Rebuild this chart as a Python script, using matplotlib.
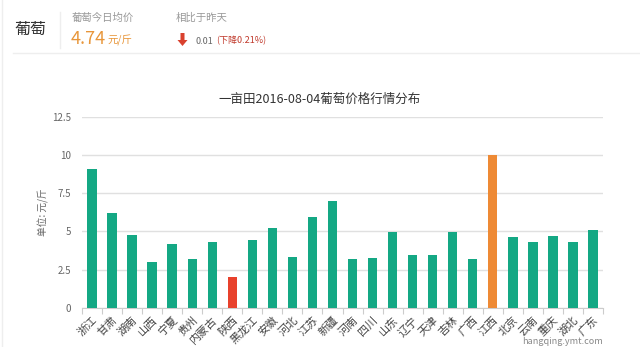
import matplotlib
matplotlib.use("Agg")
import matplotlib.pyplot as plt
from matplotlib.lines import Line2D
from matplotlib.patches import Polygon

plt.rcParams['font.family'] = ['Noto Sans CJK SC', 'DejaVu Sans']

provinces = ['浙江', '甘肃', '湖南', '山西', '宁夏', '贵州', '内蒙古', '陕西', '黑龙江', '安徽',
             '河北', '江苏', '新疆', '河南', '四川', '山东', '辽宁', '天津', '吉林', '广西',
             '江西', '北京', '云南', '重庆', '湖北', '广东']
prices = [9.05, 6.2, 4.8, 3.03, 4.19, 3.2, 4.32, 2.0, 4.45, 5.24,
          3.33, 5.94, 6.97, 3.2, 3.25, 4.98, 3.44, 3.44, 4.98, 3.2,
          10.0, 4.63, 4.32, 4.71, 4.28, 5.11]
y_ticks = [0, 2.5, 5, 7.5, 10, 12.5]
y_tick_labels = ['0', '2.5', '5', '7.5', '10', '12.5']

GREEN = '#14a884'
RED = '#e8412c'
ORANGE = '#ee8a35'

lowest = prices.index(min(prices))
highest = prices.index(max(prices))
colors = [GREEN] * len(prices)
colors[lowest] = RED
colors[highest] = ORANGE

W, H = 640, 347
fig = plt.figure(figsize=(6.4, 3.47), dpi=100)
fig.patch.set_facecolor('white')


def fx(px):
    return px / W


def fy(py):
    return 1 - py / H


# Header
fig.text(fx(14), fy(29), '葡萄', fontsize=11.5, color='#333333', va='center', ha='left')
fig.add_artist(Line2D([fx(60), fx(60)], [fy(12), fy(48)], color='#eeeeee', lw=1))
fig.text(fx(72), fy(18), '葡萄今日均价', fontsize=7.5, color='#999999', va='center', ha='left')
fig.text(fx(71), fy(39), '4.74', fontsize=13, color='#e8963a', va='center', ha='left')
fig.text(fx(107), fy(40), '元/斤', fontsize=7.5, color='#e8963a', va='center', ha='left')
fig.text(fx(176), fy(18), '相比于昨天', fontsize=7.5, color='#999999', va='center', ha='left')
# down arrow
ax0, ay0 = 182.5, 33
arrow_pts = [(ax0 - 2, ay0), (ax0 + 2, ay0), (ax0 + 2, ay0 + 7), (ax0 + 5, ay0 + 7),
             (ax0, ay0 + 13), (ax0 - 5, ay0 + 7), (ax0 - 2, ay0 + 7)]
fig.add_artist(Polygon([(fx(p[0]), fy(p[1])) for p in arrow_pts], closed=True,
                       transform=fig.transFigure, facecolor='#d9412e', edgecolor='none'))
fig.text(fx(196), fy(41), '0.01', fontsize=6.5, color='#666666', va='center', ha='left')
fig.text(fx(216), fy(41), '(下降0.21%)', fontsize=6.5, color='#c0392b', va='center', ha='left')
fig.add_artist(Line2D([fx(13), 1.0], [fy(53), fy(53)], color='#eeeeee', lw=1))
fig.add_artist(Line2D([fx(2), fx(2)], [0, 1], color='#eeeeee', lw=1))

# Chart
ax = fig.add_axes([fx(82), 39 / H, 521 / W, 191.3 / H])
x = list(range(len(provinces)))
ax.bar(x, prices, width=0.47, color=colors, zorder=3)
ax.set_xlim(-0.5, len(provinces) - 0.5)
ax.set_ylim(0, 12.5)
ax.set_yticks(y_ticks)
ax.set_yticklabels(y_tick_labels)
ax.yaxis.grid(True, color='#e0e0e0', lw=1, zorder=0)
ax.tick_params(axis='y', length=0, pad=8, labelsize=7, labelcolor='#666666')
ax.set_xticks(x)
ax.set_xticklabels(provinces, rotation=45, ha='right', rotation_mode='anchor',
                   fontsize=8, color='#444444')
ax.set_xticks([i - 0.5 for i in range(len(provinces) + 1)], minor=True)
ax.tick_params(axis='x', which='major', length=0, pad=5)
ax.tick_params(axis='x', which='minor', length=4, color='#cccccc', width=0.8)
for s in ['top', 'right', 'left']:
    ax.spines[s].set_visible(False)
ax.spines['bottom'].set_color('#cccccc')
ax.spines['bottom'].set_linewidth(0.8)
ax.set_ylabel('单位: 元/斤', fontsize=7, color='#666666', labelpad=2)

fig.text(fx(320), fy(99), '一亩田2016-08-04葡萄价格行情分布', fontsize=9, color='#333333',
         va='center', ha='center')
fig.text(fx(603), fy(341), 'hangqing.ymt.com', fontsize=6.5, color='#888888',
         va='center', ha='right')

fig.savefig('out.png', dpi=100, facecolor='white')
